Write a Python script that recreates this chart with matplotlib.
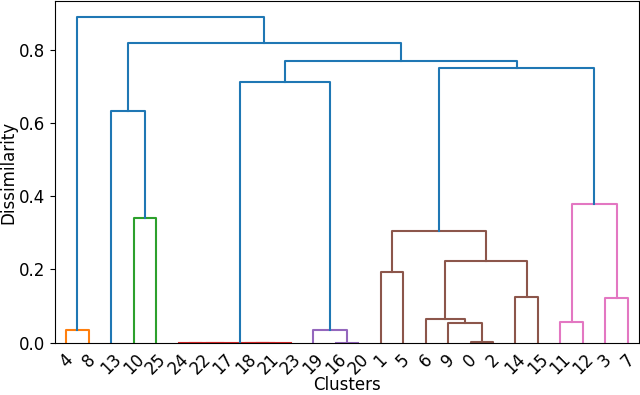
import numpy as np
import matplotlib
matplotlib.use("Agg")
import matplotlib.pyplot as plt

# linkage in scipy style: row k builds cluster id 26 + k from (link_a, link_b) at height link_h
n_leaves = 26
link_a = [4, 10, 13, 24, 29, 18, 31, 30, 16, 19, 33, 1, 0, 9, 6, 14, 40, 37, 11, 3, 44, 43, 36, 28, 26]
link_b = [8, 25, 27, 22, 17, 21, 23, 32, 20, 34, 35, 5, 2, 38, 39, 15, 41, 42, 12, 7, 45, 46, 47, 48, 49]
link_h = [0.035, 0.341, 0.633, 0.0, 0.0, 0.0, 0.0, 0.0, 0.0, 0.0355, 0.711,
          0.193, 0.001, 0.053, 0.0655, 0.124, 0.2237, 0.3056,
          0.0565, 0.121, 0.378, 0.7495, 0.768, 0.8186, 0.888]

max_h = max(link_h)
color_threshold = 0.7 * max_h
cluster_colors = ["C1", "C2", "C3", "C4", "C5", "C6", "C7", "C8", "C9"]

fig = plt.figure(figsize=(6.4, 3.95), dpi=100)
ax = fig.add_axes([55 / 640, 52.3 / 395, 584 / 640, 341.5 / 395])

leaf_order = []
next_color = [0]


def draw(node, color=None):
    # returns (x, height) of the node, drawing the U-link for merges
    if node < n_leaves:
        leaf_order.append(node)
        return 5 + 10 * (len(leaf_order) - 1), 0.0
    k = node - n_leaves
    h = link_h[k]
    if h >= color_threshold:
        c = "C0"
    elif color is None or color == "C0":
        c = cluster_colors[next_color[0] % len(cluster_colors)]
        next_color[0] += 1
    else:
        c = color
    xl, hl = draw(link_a[k], c)
    xr, hr = draw(link_b[k], c)
    ax.plot([xl, xl, xr, xr], [hl, h, h, hr], color=c, lw=1.5)
    return (xl + xr) / 2, h


draw(n_leaves + len(link_h) - 1)

ax.set_xlim(0, 10 * n_leaves)
ax.set_ylim(0, 1.05 * max_h)
ax.set_xticks([5 + 10 * i for i in range(n_leaves)])
ax.set_xticklabels([str(v) for v in leaf_order], rotation=45, fontsize=12)
for t in ax.get_xticklines():
    t.set_visible(False)
ax.tick_params(axis="x", pad=2)
ax.set_yticks([0.0, 0.2, 0.4, 0.6, 0.8])
ax.tick_params(axis="y", labelsize=12)
ax.set_xlabel("Clusters", fontsize=12)
ax.set_ylabel("Dissimilarity", fontsize=12)
ax.xaxis.set_label_coords(0.5, -0.097)
ax.yaxis.set_label_coords(-0.064, 0.5)

fig.savefig("out.png", dpi=100)
